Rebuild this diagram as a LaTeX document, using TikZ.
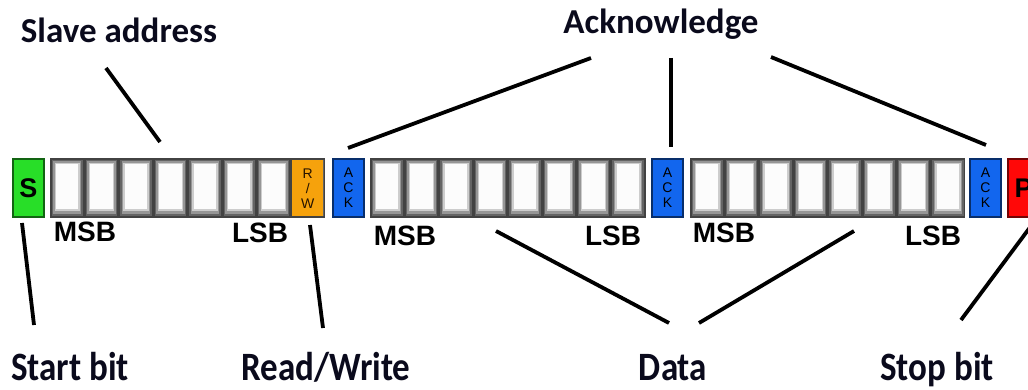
\documentclass[tikz,border=0pt]{standalone}
\usepackage{fontspec}
\newfontfamily\arialf{Liberation Sans}
\newfontfamily\calf{Carlito}
\usetikzlibrary{calc}
\definecolor{gS}{RGB}{40,222,40}
\definecolor{bA}{RGB}{18,102,238}
\definecolor{oR}{RGB}{246,162,12}
\definecolor{rP}{RGB}{255,8,8}
\definecolor{txt}{RGB}{10,10,28}
\definecolor{c0}{RGB}{66,66,66}
\definecolor{c1}{RGB}{100,100,100}
\definecolor{c2}{RGB}{150,150,150}
\definecolor{c3}{RGB}{205,205,205}
\definecolor{c4}{RGB}{252,252,252}
\begin{document}
\begin{tikzpicture}[x=1pt,y=-1pt,
  lbl/.style={font=\calf\bfseries\fontsize{35}{40}\selectfont, text=txt, inner sep=0, anchor=base},
  blbl/.style={lbl, yscale=1.15},
  bitlbl/.style={font=\arialf\bfseries\fontsize{28}{30}\selectfont, text=black, inner sep=0},
  colbox/.style={rectangle, minimum width=31pt, minimum height=58pt, inner sep=0, line width=2pt, fill=#1, draw=#1!45!black},
  frame/.style={rectangle, minimum height=60pt, inner sep=0, fill=c0},
  tiny/.style={font=\arialf\fontsize{14}{15}\selectfont, align=center, text=black},
  conn/.style={line width=3.8pt, black}]
\path[use as bounding box] (0,0) rectangle (1028,390);
\clip (0,0) rectangle (1028,390);
\fill[white] (0,0) rectangle (1028,390);

% frames of bit cells
\node[frame, minimum width=275pt] (f1) at (187.5,188) {};
\node[frame, minimum width=276pt] (f2) at (508,188) {};
\node[frame, minimum width=275pt] (f3) at (827.5,188) {};
\foreach \fx in {50,370,690}{
  \foreach \i in {0,...,7}{
    \pgfmathsetmacro\xl{\fx+\i*34.4}
    \pgfmathsetmacro\xr{\xl+34.4}
    \fill[c1] (\xl+1.5,160) rectangle (\xr-1.5,216.5);
    \fill[c2] (\xl+3,161.5) rectangle (\xr-3,214);
    \fill[c3] (\xl+4.5,163) rectangle (\xr-4.5,211.5);
    \fill[c4] (\xl+6,164.5) rectangle (\xr-6,209);
  }
}
% read/write cell
\node[rectangle, minimum width=31pt, minimum height=56.5pt, inner sep=0, fill=oR] (rw) at (307.8,188.2) {};
\node[tiny, text=black!85!orange] at (rw.center) {R\\/\\W};

% coloured single boxes
\node[colbox=gS] (s) at (28.5,188) {};
\node[font=\arialf\bfseries\fontsize{27}{30}\selectfont, inner sep=0] at (s.center) {S};
\node[colbox=bA] (ack1) at (348.5,188) {};
\node[colbox=bA] (ack2) at (667.5,188) {};
\node[colbox=bA] (ack3) at (985.5,188) {};
\foreach \a in {ack1,ack2,ack3}{
  \node[tiny] at (\a.center) {A\\C\\K};
}
\node[colbox=rP] (p) at (1023.5,188) {};
\node[font=\arialf\bfseries\fontsize{27}{30}\selectfont, inner sep=0] at (p.center) {P};

% MSB / LSB labels
\node[bitlbl] (msb1) at (85,232) {MSB};
\node[bitlbl] (lsb1) at (260,233) {LSB};
\node[bitlbl] (msb2) at (405,236) {MSB};
\node[bitlbl] (lsb2) at (613,236) {LSB};
\node[bitlbl] (msb3) at (724,233) {MSB};
\node[bitlbl] (lsb3) at (933,236) {LSB};

% text labels
\node[lbl] (slave) at (119,43) {Slave address};
\node[lbl] (ackl) at (661,34) {Acknowledge};
\node[blbl] (start) at (70,380) {Start bit};
\node[blbl] (rwl) at (326,380) {Read/Write};
\node[blbl] (data) at (673,380) {Data};
\node[blbl] (stop) at (937,380) {Stop bit};

% connector ends
\coordinate (sa1) at (106,68);   \coordinate (sa2) at (160,142);
\coordinate (ak1) at (591,58);   \coordinate (ak1e) at (348,148);
\coordinate (ak2) at (671,58);   \coordinate (ak2e) at (671,147);
\coordinate (ak3) at (771,57);   \coordinate (ak3e) at (986,145);
\coordinate (st1) at (22,223);   \coordinate (st2) at (34,325);
\coordinate (rw1) at (310,225);  \coordinate (rw2) at (323,328);
\coordinate (d1) at (496,231);   \coordinate (d1e) at (669,323);
\coordinate (d2) at (854,231);   \coordinate (d2e) at (699,323);
\coordinate (sp1) at (1031,226); \coordinate (sp2) at (961,320);

\draw[conn] (sa1) -- (sa2);
\draw[conn] (ak1) -- (ak1e);
\draw[conn] (ak2) -- (ak2e);
\draw[conn] (ak3) -- (ak3e);
\draw[conn] (st1) -- (st2);
\draw[conn] (rw1) -- (rw2);
\draw[conn] (d1) -- (d1e);
\draw[conn] (d2) -- (d2e);
\draw[conn] (sp1) -- (sp2);
\end{tikzpicture}
\end{document}
